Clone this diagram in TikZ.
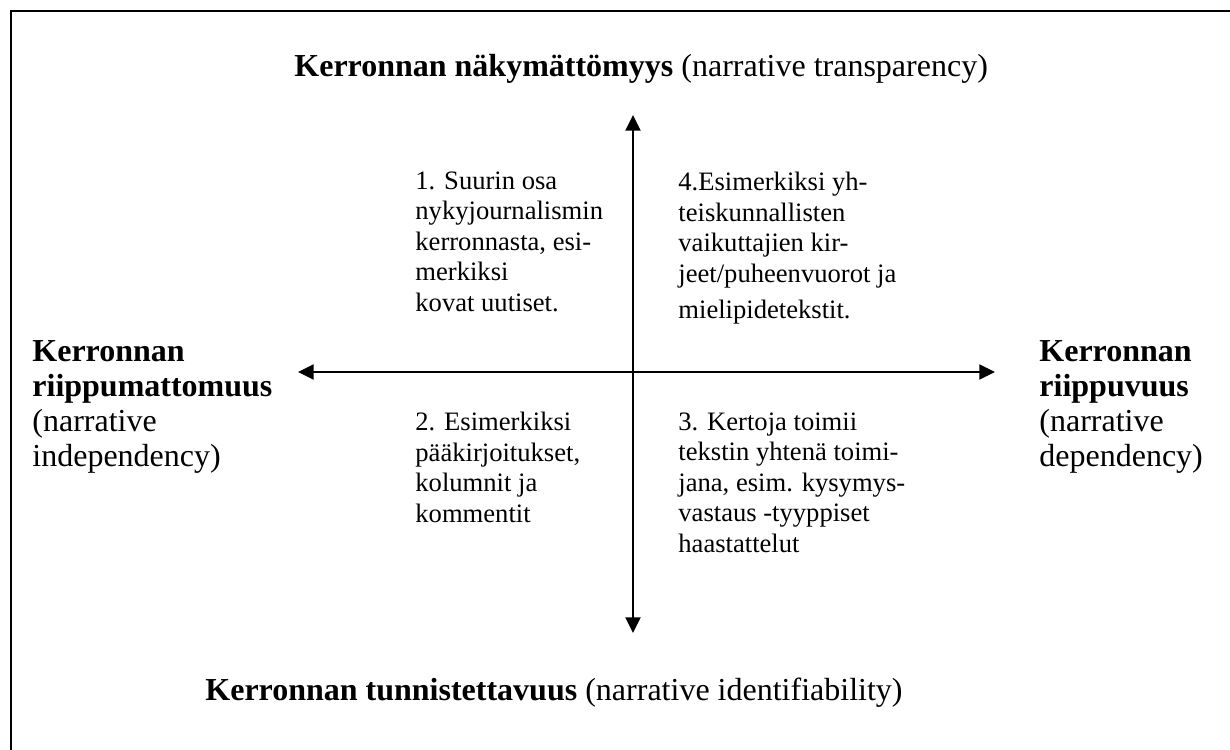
\documentclass[tikz,border=0pt]{standalone}
\usepackage{fontspec}
\setmainfont{Liberation Serif}
\usetikzlibrary{arrows.meta}
\tikzset{
  body/.style={anchor=north west, inner sep=0pt, align=left, font=\fontsize{13.3pt}{15.25pt}\selectfont},
  axislabel/.style={anchor=north west, inner sep=0pt, align=left, font=\fontsize{16pt}{17.5pt}\selectfont},
  titlelabel/.style={anchor=base west, inner sep=0pt, font=\fontsize{16pt}{17.5pt}\selectfont},
  axis/.style={line width=1pt, -{Triangle[length=7.8pt,width=7.5pt]}},
  frame/.style={line width=1pt}
}
\begin{document}
\begin{tikzpicture}[x=0.5pt,y=-0.5pt]
\useasboundingbox (0,0) rectangle (1230,749);
\draw[frame] (11,800) -- (11,11) -- (1300,11);
% axis end points
\coordinate (c) at (633,372);
\coordinate (L) at (298,372);
\coordinate (R) at (995,372);
\coordinate (T) at (633,115);
\coordinate (B) at (633,633);
\draw[axis] (c) -- (L);
\draw[axis] (c) -- (R);
\draw[axis] (c) -- (T);
\draw[axis] (c) -- (B);
% titles
\node[titlelabel] (top) at (294,77) {\textbf{Kerronnan näkymättömyys} (narrative transparency)};
\node[titlelabel] (bottom) at (205,700) {\textbf{Kerronnan tunnistettavuus} (narrative identifiability)};
% side labels (north of first line = baseline - ascender)
\node[axislabel] (left) at (32,340) {\textbf{Kerronnan}\\\textbf{riippumattomuus}\\(narrative\\independency)};
\node[axislabel] (right) at (1039,340) {\textbf{Kerronnan}\\\textbf{riippuvuus}\\(narrative\\dependency)};
% quadrants
\node[body] (q1) at (415,171) {1. Suurin osa\\nykyjournalismin\\kerronnasta, esi-\\merkiksi\\kovat uutiset.};
\node[body] (q4) at (678,172) {4.Esimerkiksi yh-\\teiskunnallisten\\vaikuttajien kir-\\jeet/puheenvuorot ja\\[2.75pt]mielipidetekstit.};
\node[body] (q2) at (415,412) {2. Esimerkiksi\\pääkirjoitukset,\\kolumnit ja\\kommentit};
\node[body] (q3) at (678,412) {3. Kertoja toimii\\tekstin yhtenä toimi-\\jana, esim. kysymys-\\vastaus -tyyppiset\\haastattelut};
\end{tikzpicture}
\end{document}
